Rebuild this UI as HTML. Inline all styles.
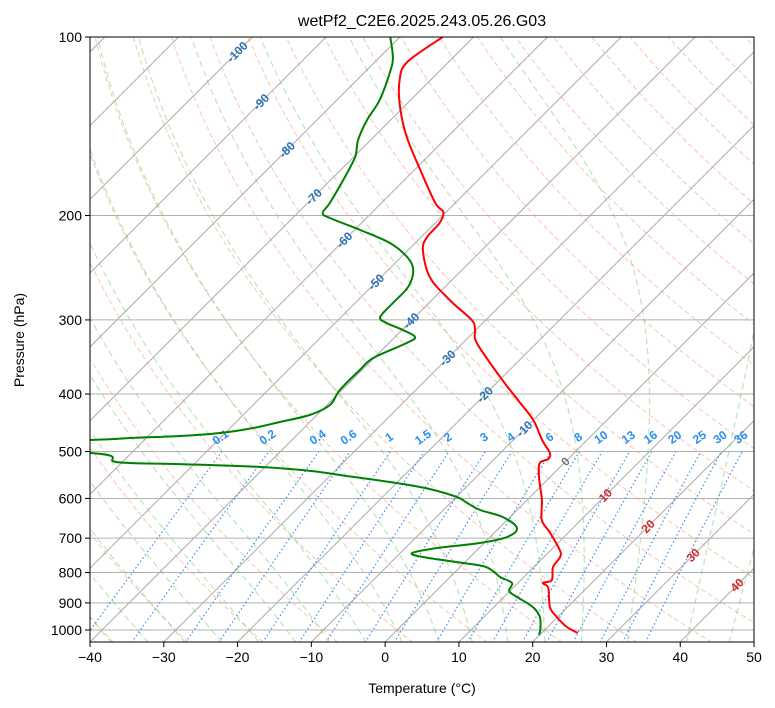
<!DOCTYPE html>
<html><head><meta charset="utf-8"><style>
body{margin:0;background:#fff;}
svg{display:block;font-family:"Liberation Sans","DejaVu Sans",sans-serif;}
</style></head><body>
<svg id="chart" width="775" height="708" viewBox="0 0 775 708" xmlns="http://www.w3.org/2000/svg">
<defs><clipPath id="plotclip"><rect x="90" y="37" width="664" height="605"/></clipPath></defs>
<rect x="0" y="0" width="775" height="708" fill="#fff"/>
<g id="grid" clip-path="url(#plotclip)"></g>
<g id="axes"></g>
<text x="422" y="26" text-anchor="middle" font-size="16" fill="#000">wetPf2_C2E6.2025.243.05.26.G03</text>
<text x="422" y="693" text-anchor="middle" font-size="14" fill="#000">Temperature (°C)</text>
<text transform="translate(24,340) rotate(-90)" text-anchor="middle" font-size="14" fill="#000">Pressure (hPa)</text>
</svg>
<script>
const tempP = [100,110.2,118.2,131.2,147.5,167.6,190.5,197.3,205.9,217.4,228.7,254,277.7,300.1,311.9,328.1,374.6,409.4,442.5,478.2,502.9,514.8,523,552.1,603.6,652.4,686.2,733.1,753.3,783.2,823.7,833.3,849.7,914.8,951,988.3,1011.8];
const tempT = [-74.2,-75.6,-74.2,-70.5,-65.5,-59.2,-52.7,-50.4,-49.4,-49.2,-48.0,-43.4,-37.6,-31.9,-30.1,-28.1,-20.3,-14.8,-10.0,-6.1,-3.3,-2.7,-3.3,-1.5,2.0,4.7,7.6,11.2,12.2,12.6,14.2,13.4,14.8,17.6,19.9,22.6,24.9];
const dewP = [100,108.5,115,127.7,138,149.2,159.4,174.2,190.5,198.1,202,211.6,222.6,235,247.2,264,280.9,296.7,303.7,311.9,320.5,328.1,347.8,364.4,393.8,417.5,433.9,445.9,456.5,465.4,470.8,474.5,478.2,490,502.9,521,525.1,531.2,539.5,550,565.2,578.5,596.8,610.8,627.6,644.9,672.9,697,713.4,727.4,741.8,753.3,768.1,780.2,795.5,814.3,833.3,859.6,879.9,914.8,951,1000,1019.6];
const dewT = [-81.3,-78.1,-76.5,-74.2,-73.2,-71.7,-69.8,-68.3,-67.0,-66.6,-64.9,-59.2,-53.4,-49.2,-46.6,-45.0,-44.9,-44.7,-43.0,-39.9,-37.3,-37.6,-40.1,-40.3,-40.3,-39.6,-41.0,-44.1,-46.9,-50.7,-55.7,-62.2,-67.4,-95,-65.6,-60.7,-51.9,-40.3,-33.0,-27.7,-19.9,-14.7,-9.9,-7.7,-5.0,-1.0,2.4,2.3,-0.6,-5.7,-8.4,-6.4,-1.1,3.0,5.0,6.8,9.2,9.9,11.8,15.3,17.6,19.4,19.9];
const pressureTicks = [100,200,300,400,500,600,700,800,900,1000];
const tempTicks = [-40,-30,-20,-10,0,10,20,30,40,50];
const mixingRatios = [0.1,0.2,0.4,0.6,1,1.5,2,3,4,6,8,10,13,16,20,25,30,36];
const mixingLabels = ["0.1","0.2","0.4","0.6","1","1.5","2","3","4","6","8","10","13","16","20","25","30","36"];
const isoLabelT = [-100,-90,-80,-70,-60,-50,-40,-30,-20,-10,0,10,20,30,40];
const isoLabelP = [106,128.7,155,186,220,259,301,348,401,458,520,593,669,748,840];
const moistBaseT = [-37,-32,-27,-22,-17,-12,-7.5,-2.5,2.4,7.4,11.9,16.7,21.7,26.7,32.9,40.9,46.7];

const NS="http://www.w3.org/2000/svg";
const L=90,R=754,TOP=37,BOT=642,PX=7.378;
function Y(p){return TOP+593*(Math.log10(p)-2);}
function X(T,p){return L+(T+40)*PX+(BOT-Y(p));}
function XT(T){return L+(T+40)*PX;}
const grid=document.getElementById('grid'),axes=document.getElementById('axes');
function mk(tag,attrs,parent){const e=document.createElementNS(NS,tag);for(const k in attrs)e.setAttribute(k,attrs[k]);parent.appendChild(e);return e;}
function pathFrom(ps,ts){let d='';for(let i=0;i<ps.length;i++){d+=(i?'L':'M')+X(ts[i],ps[i]).toFixed(1)+','+Y(ps[i]).toFixed(1);}return d;}
function smoothPath(ps,ts){
  const pts=ps.map((p,i)=>[X(ts[i],p),Y(p)]);
  let d='M'+pts[0][0].toFixed(1)+','+pts[0][1].toFixed(1);
  for(let i=0;i<pts.length-1;i++){
    const p0=pts[Math.max(0,i-1)],p1=pts[i],p2=pts[i+1],p3=pts[Math.min(pts.length-1,i+2)];
    const c1=[p1[0]+(p2[0]-p0[0])/6,p1[1]+(p2[1]-p0[1])/6];
    const c2=[p2[0]-(p3[0]-p1[0])/6,p2[1]-(p3[1]-p1[1])/6];
    d+='C'+c1[0].toFixed(1)+','+c1[1].toFixed(1)+' '+c2[0].toFixed(1)+','+c2[1].toFixed(1)+' '+p2[0].toFixed(1)+','+p2[1].toFixed(1);
  }
  return d;
}
const pmin=95,pmax=1050;

for(let T=-160;T<=60;T+=10){
  const l=mk('line',{x1:X(T,pmax),y1:Y(pmax),x2:X(T,pmin),y2:Y(pmin),stroke:'#aaa','stroke-width':1},grid);
  
  
}
pressureTicks.forEach(p=>{
  const l=mk('line',{x1:L,y1:Y(p),x2:R,y2:Y(p),stroke:'#b0b0b0','stroke-width':1},grid);
  
  
});
for(let th=-40;th<=260;th+=10){
  const ps=[],ts=[];
  for(let p=pmax;p>=pmin;p-=10){ps.push(p);ts.push((th+273.15)*Math.pow(p/1000,0.2857)-273.15);}
  const e=mk('path',{d:pathFrom(ps,ts),fill:'none',stroke:'#f4a080','stroke-opacity':0.6,'stroke-width':1,'stroke-dasharray':'5,3'},grid);
  
  
}
function es(T){return 6.112*Math.exp(17.67*T/(T+243.5));}
function moistGrad(p,T){const Tk=T+273.15,Rd=287.04,Cp=1005.7,Lv=2.501e6,eps=0.622;const rs=eps*es(T)/(p-es(T));
  return (Rd*Tk+Lv*rs)/(Cp+Lv*Lv*rs*eps/(Rd*Tk*Tk))/p;}
moistBaseT.forEach(T0=>{
  const ps=[],ts=[];let T=T0;
  for(let p=pmax;p>=pmin;p-=2){ps.push(p);ts.push(T);T-=moistGrad(p,T)*2;}
  const e=mk('path',{d:pathFrom(ps,ts),fill:'none',stroke:'#6cc46c','stroke-opacity':0.45,'stroke-width':1.2,'stroke-dasharray':'6,4'},grid);
  
  
});
function tdFromW(w,p){const e=w*p/(622+w);const a=Math.log(e/6.112);return 243.5*a/(17.67-a);}
mixingRatios.forEach((w,i)=>{
  const ps=[],ts=[];
  for(let p=pmax;p>=500;p-=10){ps.push(p);ts.push(tdFromW(w,p));}
  ps.push(500);ts.push(tdFromW(w,500));
  const e=mk('path',{d:pathFrom(ps,ts),fill:'none',stroke:'#3d8fef','stroke-width':1.2,'stroke-dasharray':'1.5,2.5'},grid);
  
  
  const x=X(tdFromW(w,500),500)+1,y=Y(500)-11;
  const t=mk('text',{x:x,y:y,'text-anchor':'middle','font-size':12,'font-weight':'bold',fill:'#2a8ff0',transform:`rotate(-35 ${x} ${y})`},grid);
  t.textContent=mixingLabels[i];
  
  
});
isoLabelT.forEach((T,i)=>{
  const p=isoLabelP[i],x=X(T,p),y=Y(p)+4;
  const col=T<0?'#2a72b5':(T===0?'#777':'#d62728');
  const t=mk('text',{x:x,y:y,'text-anchor':'middle','font-size':12,'font-weight':'bold',fill:col,transform:`rotate(-45 ${x} ${y-4})`},grid);
  t.textContent=String(T);
  
  
});
const tl=mk('path',{d:smoothPath(tempP,tempT),fill:'none',stroke:'#ff0000','stroke-width':2,'stroke-linejoin':'round'},grid);


const dl=mk('path',{d:smoothPath(dewP,dewT),fill:'none',stroke:'#008000','stroke-width':2,'stroke-linejoin':'round'},grid);



const fr=mk('rect',{x:L,y:TOP,width:R-L,height:BOT-TOP,fill:'none',stroke:'#000','stroke-width':1},axes);


tempTicks.forEach(T=>{
  const x=XT(T);
  const l=mk('line',{x1:x,y1:BOT,x2:x,y2:BOT+5,stroke:'#000'},axes);
  
  
  const t=mk('text',{x:x,y:BOT+20,'text-anchor':'middle','font-size':14,fill:'#000'},axes);
  t.textContent=T<0?'\u2212'+Math.abs(T):String(T);
  
  
});
pressureTicks.forEach(p=>{
  const y=Y(p);
  const l=mk('line',{x1:L-5,y1:y,x2:L,y2:y,stroke:'#000'},axes);
  
  
  const t=mk('text',{x:L-8,y:y+5,'text-anchor':'end','font-size':14,fill:'#000'},axes);
  t.textContent=String(p);
  
  
});
</script>
</body></html>
